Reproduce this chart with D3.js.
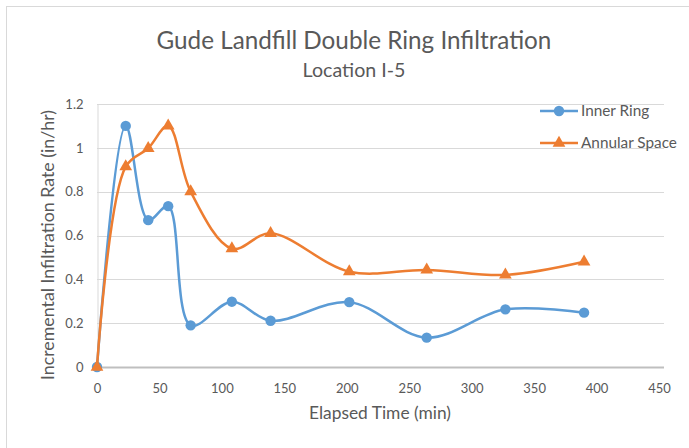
<!DOCTYPE html>
<html>
<head>
<meta charset="utf-8">
<script src="https://cdn.jsdelivr.net/npm/d3@7/dist/d3.min.js"></script>
<style>
  html, body { margin: 0; padding: 0; background: #fff; }
  svg { display: block; }
  text { font-family: Lato, "Open Sans", sans-serif; fill: #595959; }
</style>
</head>
<body>
<svg id="chart" width="689" height="448"></svg>
<script>
// Elapsed time (min) for each reading
const elapsed = [0, 23, 41, 57, 75, 108, 139, 202, 264, 327, 390];
// Incremental infiltration rate (in/hr)
const innerRing = [0, 1.10, 0.67, 0.734, 0.19, 0.298, 0.211, 0.296, 0.134, 0.263, 0.248];
const annularSpace = [0, 0.914, 0.998, 1.10, 0.80, 0.54, 0.61, 0.435, 0.443, 0.42, 0.48];

const xTicks = [0, 50, 100, 150, 200, 250, 300, 350, 400, 450];
const yTicks = [0, 0.2, 0.4, 0.6, 0.8, 1.0, 1.2];

const seriesNames = ["Inner Ring", "Annular Space"];
const seriesColors = ["#5B9BD5", "#ED7D31"];

const svg = d3.select("#chart");

// scale a text's font size so it spans the given width
function fitWidth(sel, width) {
  const node = sel.node();
  const size = parseFloat(sel.style("font-size"));
  const w = node.getComputedTextLength();
  if (w > 0) sel.style("font-size", (size * width / w).toFixed(2) + "px");
  return sel;
}

// chart frame
svg.append("rect")
  .attr("x", 6.5).attr("y", 6.5)
  .attr("width", 700).attr("height", 460)
  .attr("fill", "#fff").attr("stroke", "#D9D9D9").attr("stroke-width", 1);

const plotLeft = 97, plotRight = 659, plotTop = 104, plotBottom = 367;

const x = d3.scaleLinear().domain([0, 450]).range([plotLeft, plotRight]);
const y = d3.scaleLinear().domain([0, 1.2]).range([plotBottom, plotTop]);

// horizontal gridlines
svg.append("g")
  .selectAll("line")
  .data(yTicks.filter(d => d > 0))
  .join("line")
  .attr("x1", plotLeft).attr("x2", plotRight + 5)
  .attr("y1", d => Math.round(y(d)) + 0.5).attr("y2", d => Math.round(y(d)) + 0.5)
  .attr("stroke", "#D9D9D9").attr("stroke-width", 1);

// y axis
const yAxis = svg.append("g")
  .attr("transform", `translate(${plotLeft + 0.5},0)`)
  .call(d3.axisLeft(y).tickValues(yTicks).tickSize(0).tickPadding(14)
    .tickFormat(d => d3.format("~g")(d)));
yAxis.select(".domain").attr("stroke", "#D9D9D9").attr("stroke-width", 1);
yAxis.selectAll("text").style("font-size", "13px").attr("fill", "#595959")
  .style("font-family", "Lato, sans-serif");

// x axis
const xAxis = svg.append("g")
  .attr("transform", `translate(0,${plotBottom})`)
  .call(d3.axisBottom(x).tickValues(xTicks).tickSize(0).tickPadding(17)
    .tickFormat(d3.format("d")));
xAxis.select(".domain").attr("stroke", "#BFBFBF").attr("stroke-width", 2)
  .attr("d", `M${plotLeft},0.5H${plotRight + 5}`);
xAxis.selectAll("text").style("font-size", "13px").attr("fill", "#595959")
  .style("font-family", "Lato, sans-serif");

// titles
fitWidth(svg.append("text")
  .attr("x", 354).attr("y", 49)
  .attr("text-anchor", "middle")
  .style("font-size", "22px")
  .text("Gude Landfill Double Ring Infiltration"), 395);
fitWidth(svg.append("text")
  .attr("x", 354).attr("y", 77)
  .attr("text-anchor", "middle")
  .style("font-size", "17px")
  .text("Location I-5"), 103);

fitWidth(svg.append("text")
  .attr("x", 380).attr("y", 419)
  .attr("text-anchor", "middle")
  .style("font-size", "14.5px")
  .text("Elapsed Time (min)"), 142);
fitWidth(svg.append("text")
  .attr("transform", "translate(54,245) rotate(-90)")
  .attr("text-anchor", "middle")
  .style("font-size", "14.5px")
  .text("Incremental Infiltration Rate (in/hr)"), 270);

// series lines and markers
const line = d3.line()
  .x(d => x(d[0]))
  .y(d => y(d[1]))
  .curve(d3.curveCatmullRom.alpha(0.5));

const seriesData = [innerRing, annularSpace].map(vals => elapsed.map((t, i) => [t, vals[i]]));

const triangle = d3.symbol().type(d3.symbolTriangle).size(70);

seriesData.forEach((pts, s) => {
  const g = svg.append("g");
  g.append("path")
    .datum(pts)
    .attr("d", line)
    .attr("fill", "none")
    .attr("stroke", seriesColors[s])
    .attr("stroke-width", 2.5)
    .attr("stroke-linejoin", "round");
  if (s === 0) {
    g.selectAll("circle").data(pts).join("circle")
      .attr("cx", d => x(d[0])).attr("cy", d => y(d[1]))
      .attr("r", 5.2).attr("fill", seriesColors[s]);
  } else {
    g.selectAll(".tri").data(pts).join("path")
      .attr("class", "tri")
      .attr("transform", d => `translate(${x(d[0])},${y(d[1])})`)
      .attr("d", triangle)
      .attr("fill", seriesColors[s]);
  }
});

// legend
const legend = svg.append("g");
seriesNames.forEach((name, s) => {
  const ly = [111, 143][s];
  legend.append("line")
    .attr("x1", 540).attr("x2", 578).attr("y1", ly).attr("y2", ly)
    .attr("stroke", seriesColors[s]).attr("stroke-width", 2.5);
  if (s === 0) {
    legend.append("circle").attr("cx", 559).attr("cy", ly).attr("r", 5.2)
      .attr("fill", seriesColors[s]);
  } else {
    legend.append("path").attr("transform", `translate(559,${ly})`)
      .attr("d", triangle).attr("fill", seriesColors[s]);
  }
  const t = legend.append("text")
    .attr("x", 581).attr("y", ly + 5)
    .style("font-size", "13.5px")
    .text(name);
  if (s === 1) fitWidth(t, 96);
});
// both legend entries share one size
const legendSize = legend.selectAll("text").nodes()[1].style.fontSize;
legend.selectAll("text").style("font-size", legendSize);
</script>
</body>
</html>
